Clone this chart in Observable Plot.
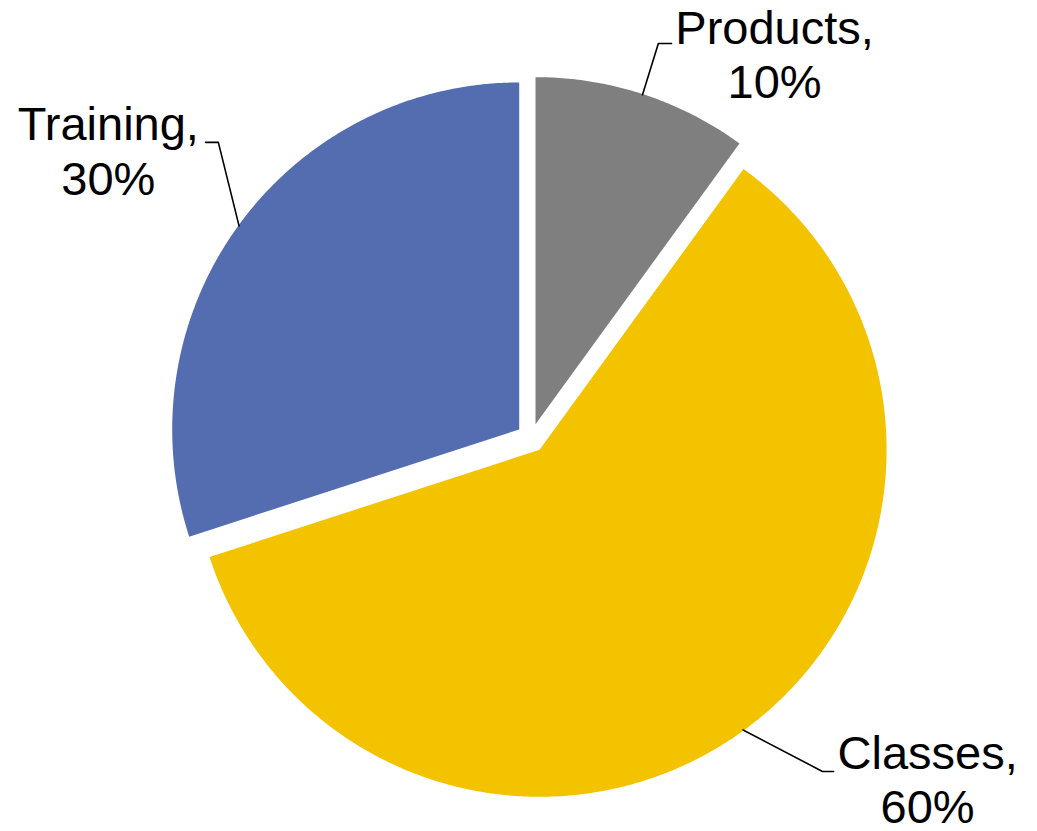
<!DOCTYPE html>
<html>
<head>
<meta charset="utf-8">
<script src="https://cdn.jsdelivr.net/npm/d3@7"></script>
<script src="https://cdn.jsdelivr.net/npm/@observablehq/plot@0.6"></script>
<style>
  html, body { margin: 0; padding: 0; background: #ffffff; }
  #chart { width: 1037px; height: 831px; }
</style>
</head>
<body>
<div id="chart"></div>
<script>
// ---- data ----
const categories = ["Products", "Classes", "Training"];
const shares = [10, 60, 30];
const valueLabels = ["10%", "60%", "30%"];

// ---- styles ----
const colors = {Products: "#7f7f7f", Classes: "#f3c300", Training: "#536db0"};

// ---- layout (in radius units, relative to pie centre; y up) ----
const W = 1037, H = 831;
const R = 347;                 // pie radius in px
const CX = 530.5, CY = 437.5;  // pie centre in px
const explode = 0.042;         // slice offset (radius units)
const labelLayout = {
  Products: {tx: 0.702, ty: 1.248, ex: 0.367, ey: 1.137, hx: 0.405},
  Classes:  {tx: 1.143, ty: -0.841, ex: 0.840, ey: -0.961, hx: 0.872},
  Training: {tx: -1.218, ty: 0.969, ex: -0.901, ey: 0.852, hx: -0.938}
};

// ---- geometry from the data via d3.pie ----
const pie = d3.pie().sort(null).value((d, i) => shares[i])(categories);
const slices = pie.map((p, i) => {
  const name = categories[i];
  const mid = (p.startAngle + p.endAngle) / 2;
  const ox = explode * Math.sin(mid), oy = explode * Math.cos(mid);
  const pts = [{x: ox, y: oy}];
  const n = Math.max(8, Math.ceil((p.endAngle - p.startAngle) / (Math.PI / 360)));
  for (let k = 0; k <= n; k++) {
    const a = p.startAngle + (p.endAngle - p.startAngle) * k / n;
    pts.push({x: ox + Math.sin(a), y: oy + Math.cos(a)});
  }
  const arcMid = {x: ox + 0.998 * Math.sin(mid), y: oy + 0.998 * Math.cos(mid)};
  return {name, pts, arcMid, label: `${name},\n${valueLabels[i]}`};
});

const marks = [];
for (const s of slices) {
  marks.push(Plot.line(s.pts, {x: "x", y: "y", fill: colors[s.name], stroke: "none", curve: "linear-closed"}));
}
for (const s of slices) {
  const L = labelLayout[s.name];
  marks.push(Plot.line([
    {x: s.arcMid.x, y: s.arcMid.y},
    {x: L.ex, y: L.ey},
    {x: L.hx, y: L.ey}
  ], {x: "x", y: "y", stroke: "#000", strokeWidth: 1.6}));
}
marks.push(Plot.text(slices.map(s => ({x: labelLayout[s.name].tx, y: labelLayout[s.name].ty, t: s.label})), {
  x: "x", y: "y", text: "t",
  textAnchor: "middle", lineAnchor: "top", lineHeight: 1.16,
  fontSize: 47, fill: "#000",
  fontFamily: "'Liberation Sans', Arial, sans-serif"
}));

const chart = Plot.plot({
  width: W, height: H,
  margin: 0,
  x: {domain: [-CX / R, (W - CX) / R], axis: null},
  y: {domain: [-(H - CY) / R, CY / R], axis: null},
  style: {background: "#ffffff", fontFamily: "'Liberation Sans', Arial, sans-serif"},
  marks
});
document.getElementById("chart").appendChild(chart);
</script>
</body>
</html>
